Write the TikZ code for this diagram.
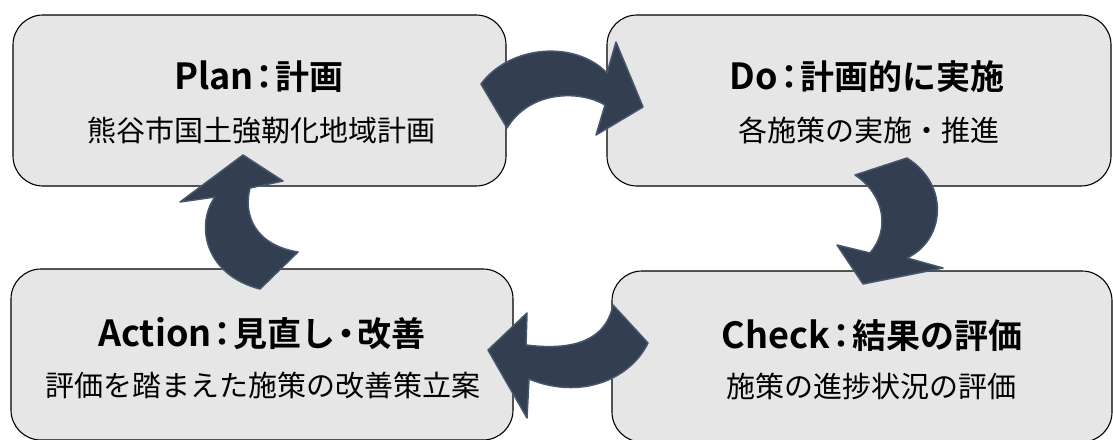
\documentclass[tikz,border=0pt]{standalone}
\usepackage{fontspec}
\setmainfont{Noto Sans CJK JP}[BoldFont={Noto Sans CJK JP Bold}]
\definecolor{boxgray}{HTML}{E6E6E6}
\definecolor{arrowfill}{HTML}{333F50}
\definecolor{arrowline}{HTML}{46566C}
\newcommand{\lat}[1]{{\fontsize{36}{40}\selectfont #1}}
\newcommand{\fcolon}{\kern-6pt：\kern-6pt}
\newcommand{\fdot}{\kern-6pt・\kern-6pt}
\begin{document}
\begin{tikzpicture}[x=1pt,y=-1pt,
  box/.style={draw=black, line width=1.1pt, fill=boxgray, rounded corners=30pt, inner sep=0pt, minimum height=171pt},
  ttl/.style={font=\bfseries\fontsize{34}{40}\selectfont, inner sep=0pt, anchor=base},
  sub/.style={font=\fontsize{29}{34}\selectfont, inner sep=0pt, anchor=base},
  cyc/.style={fill=arrowfill, draw=arrowline, line width=1.5pt, line join=round}]
\useasboundingbox (0,0) rectangle (1113,439);
\clip (0,0) rectangle (1113,439);
% boxes
\node[box, minimum width=493pt] (plan)  at (259.5,100.5) {};
\node[box, minimum width=504pt] (do)    at (859,100.5) {};
\node[box, minimum width=502pt] (act)   at (262,354.5) {};
\node[box, minimum width=500pt] (check) at (862,356.5) {};
% texts
\node[ttl] (plant) at (259,89) {\lat{Plan}\fcolon 計画};
\node[sub] (plans) at (261,141) {熊谷市国土強靭化地域計画};
\node[ttl] (dot) at (867,89) {\lat{Do}\fcolon 計画的に実施};
\node[sub] (dos) at (869,141) {各施策の実施・推進};
\node[ttl] (actt) at (262,346) {\lat{Action}\fcolon 見直し\fdot 改善};
\node[sub] (acts) at (263,396) {評価を踏まえた施策の改善策立案};
\node[ttl] (checkt) at (872,348) {\lat{Check}\fcolon 結果の評価};
\node[sub] (checks) at (871,397) {施策の進捗状況の評価};
% cycle arrows
\draw[cyc] (481,84) .. controls (510,45) and (575,40) .. (607,73) -- (616,42) -- (643,107) -- (596,135) -- (605,105)
  .. controls (580,90) and (530,90) .. (507,128) -- cycle;
\draw[cyc] (855,175) -- (907,158) .. controls (950,185) and (945,240) .. (907,258) -- (943,268) -- (863,284) -- (837,245) -- (870,253)
  .. controls (890,230) and (885,195) .. (855,175) -- cycle;
\draw[cyc] (613,305) -- (648,343) .. controls (630,380) and (580,400) .. (529,379) -- (527,418) -- (488,350) -- (527,313) -- (526,345)
  .. controls (565,350) and (605,345) .. (613,305) -- cycle;
\draw[cyc] (298,252) -- (260,289) .. controls (205,275) and (195,225) .. (215,197) -- (180,202) -- (243,155) -- (283,181) -- (250,188)
  .. controls (243,215) and (255,245) .. (298,252) -- cycle;
\end{tikzpicture}
\end{document}
